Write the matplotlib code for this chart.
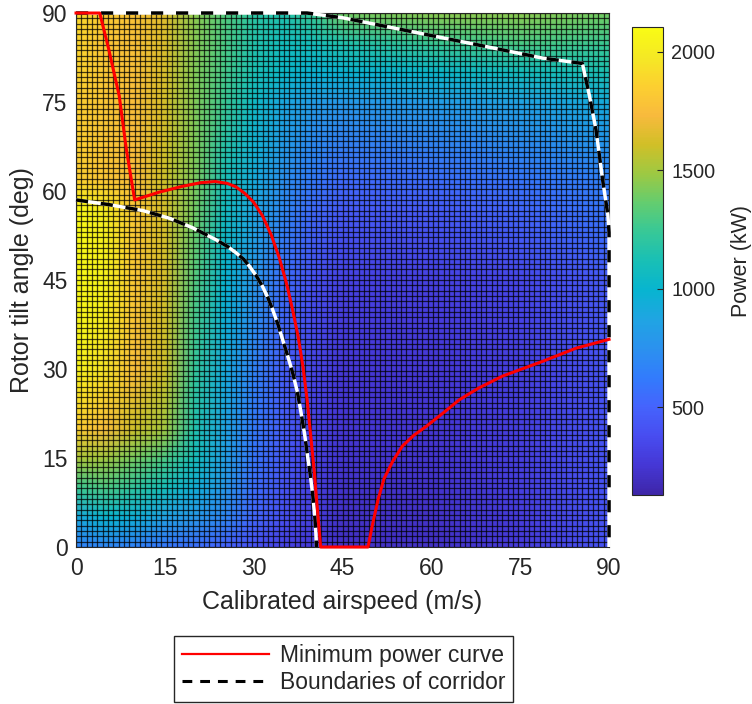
import matplotlib.pyplot as plt
import numpy as np
from matplotlib.colors import LinearSegmentedColormap
from matplotlib.lines import Line2D

plt.rcParams['font.family'] = ['Liberation Sans', 'DejaVu Sans']
plt.rcParams['text.color'] = '#262626'
plt.rcParams['axes.labelcolor'] = '#262626'
plt.rcParams['xtick.color'] = '#262626'
plt.rcParams['ytick.color'] = '#262626'

# parula-style colour map
parula = LinearSegmentedColormap.from_list('parula', [
    (0.2422, 0.1504, 0.6603), (0.2706, 0.2147, 0.8364),
    (0.2813, 0.3006, 0.9414), (0.2699, 0.3892, 0.9906),
    (0.1963, 0.4847, 0.9892), (0.1687, 0.5703, 0.9359),
    (0.1248, 0.6459, 0.8883), (0.0297, 0.7082, 0.8163),
    (0.0964, 0.7500, 0.7120), (0.2161, 0.7843, 0.5923),
    (0.3909, 0.8029, 0.4354), (0.6174, 0.7876, 0.2612),
    (0.8203, 0.7498, 0.1535), (0.9728, 0.7298, 0.2394),
    (0.9892, 0.8136, 0.1885), (0.9597, 0.9135, 0.1423),
    (0.9769, 0.9839, 0.0805)])

# power map (kW), sampled on a coarse airspeed / tilt grid
airspeed = [0, 5, 10, 15, 20, 25, 30, 35, 40, 45, 60, 75, 90]
tilt = [0, 5, 10, 15, 20, 30, 45, 57, 62, 75, 80, 85, 90]
power = [
    [650, 680, 650, 600, 560, 500, 400, 320, 260, 210, 210, 280, 430],
    [900, 1000, 950, 850, 800, 700, 520, 400, 300, 220, 220, 290, 430],
    [1250, 1300, 1200, 1100, 950, 800, 560, 430, 310, 230, 230, 300, 430],
    [1520, 1500, 1400, 1300, 1100, 850, 600, 450, 320, 240, 240, 300, 430],
    [1850, 1750, 1600, 1500, 1150, 880, 620, 470, 330, 250, 250, 300, 430],
    [2050, 1950, 1750, 1600, 1230, 920, 670, 480, 340, 260, 260, 300, 430],
    [2090, 2050, 1800, 1620, 1320, 1000, 780, 560, 400, 320, 310, 350, 460],
    [2090, 2000, 1800, 1620, 1400, 1080, 880, 700, 540, 460, 460, 520, 600],
    [1850, 1800, 1750, 1600, 1420, 1120, 920, 740, 620, 540, 560, 600, 660],
    [1850, 1800, 1750, 1620, 1430, 1250, 1050, 900, 820, 800, 820, 860, 920],
    [1870, 1800, 1760, 1630, 1430, 1280, 1130, 1030, 980, 980, 1020, 1080, 1130],
    [1880, 1800, 1770, 1640, 1440, 1300, 1160, 1080, 1100, 1150, 1250, 1300, 1250],
    [1900, 1820, 1780, 1650, 1450, 1320, 1200, 1150, 1250, 1400, 1450, 1450, 1400],
]

# minimum power curve
min_v = [0, 4, 5.5, 7.3, 8.5, 9.9, 14, 18, 21, 23.5, 25.5, 27, 28.5, 30,
         31.5, 33, 34.3, 35.5, 36.5, 37.5, 38.3, 39, 39.6, 40.2, 40.7, 41.1,
         41.3, 49.3, 50, 51, 52, 53.5, 55.1, 57, 59.1, 62, 64.7, 68, 72,
         78.8, 84.4, 90]
min_theta = [90, 90, 84, 76, 67, 58.5, 59.8, 60.8, 61.4, 61.6, 61.3, 60.7,
             59.6, 58.1, 55.8, 52.5, 48.8, 44.6, 40.3, 35.5, 30.5, 25, 19,
             13, 7, 2.4, 0, 0, 3.5, 8, 11.5, 14.5, 17, 18.8, 20.3, 22.6,
             24.8, 26.8, 28.8, 31.3, 33.5, 35]

# corridor boundaries
low_v = [0, 5.6, 11.3, 15.8, 19.7, 23.6, 25.5, 27, 28.3, 29.3, 30.5, 31.5,
         32.4, 33.2, 34.1, 34.9, 35.8, 36.6, 37.4, 38, 38.6, 39.1, 39.6, 40,
         40.3, 40.5, 40.6]
low_theta = [58.5, 57.7, 56.7, 55.4, 53.8, 51.8, 50.7, 49.6, 48.5, 47.3,
             45.6, 43.9, 42, 40, 37.5, 34.9, 32, 29.3, 26, 22.6, 19, 15.3,
             11.8, 8.5, 5.3, 2.4, 0]
up_v = [0, 39, 45, 56, 67.5, 78.8, 85.5, 86.7, 87.8, 88.9, 89.8, 90, 90]
up_theta = [90, 90, 89.2, 87, 84.7, 82.4, 81.5, 76, 70.3, 62, 56, 53, 0]

clim = (130, 2105)

fig = plt.figure(figsize=(7.52, 7.04), dpi=100)
ax = fig.add_axes([0.1011, 0.2230, 0.7088, 0.7585])

mesh = ax.pcolormesh(airspeed, tilt, power, shading='gouraud', cmap=parula,
                     vmin=clim[0], vmax=clim[1], zorder=1)

# pcolor cell edges
edges = np.linspace(0, 90, 101)
ax.vlines(edges, 0, 90, colors='k', linewidth=0.9, alpha=0.72, zorder=2)
ax.hlines(edges, 0, 90, colors='k', linewidth=0.9, alpha=0.72, zorder=2)

ax.plot(min_v, min_theta, color='red', lw=2.2, zorder=5, clip_on=False)
for v, t in [(low_v, low_theta), (up_v, up_theta)]:
    ax.plot(v, t, color='white', lw=2.5, zorder=3, clip_on=False,
            solid_capstyle='butt')
    ax.plot(v, t, color='black', lw=2.5, zorder=4, clip_on=False,
            dashes=(3.5, 3.7), dash_capstyle='butt')

ax.set_xlim(0, 90)
ax.set_ylim(0, 90)
ax.set_xticks(np.arange(0, 91, 15))
ax.set_yticks(np.arange(0, 91, 15))
ax.tick_params(length=0, labelsize=16.5)
ax.tick_params(axis='x', pad=7.5)
ax.tick_params(axis='y', pad=6)
for s in ax.spines.values():
    s.set_color('#262626')
    s.set_linewidth(0.8)
ax.set_xlabel('Calibrated airspeed (m/s)', fontsize=18, labelpad=7)
ax.set_ylabel('Rotor tilt angle (deg)', fontsize=18, labelpad=6)

cax = fig.add_axes([0.8404, 0.2969, 0.0412, 0.6648])
cb = fig.colorbar(mesh, cax=cax, ticks=[500, 1000, 1500, 2000])
cb.outline.set_edgecolor('#262626')
cb.outline.set_linewidth(0.8)
cax.tick_params(direction='in', length=4, width=0.8, labelsize=14.3, pad=6)
cb.set_label('Power (kW)', fontsize=15.5, labelpad=11)

handles = [Line2D([], [], color='red', lw=1.6),
           Line2D([], [], color='black', lw=2.2, dashes=(3.2, 2.6))]
fig.legend(handles, ['Minimum power curve', 'Boundaries of corridor'],
           loc='center', bbox_to_anchor=(0.457, 0.0497), fontsize=16.5,
           handlelength=3.8, handletextpad=0.45, labelspacing=0.2,
           borderpad=0.35, fancybox=False, edgecolor='#262626',
           framealpha=1)

plt.savefig('out.png', dpi=100)
